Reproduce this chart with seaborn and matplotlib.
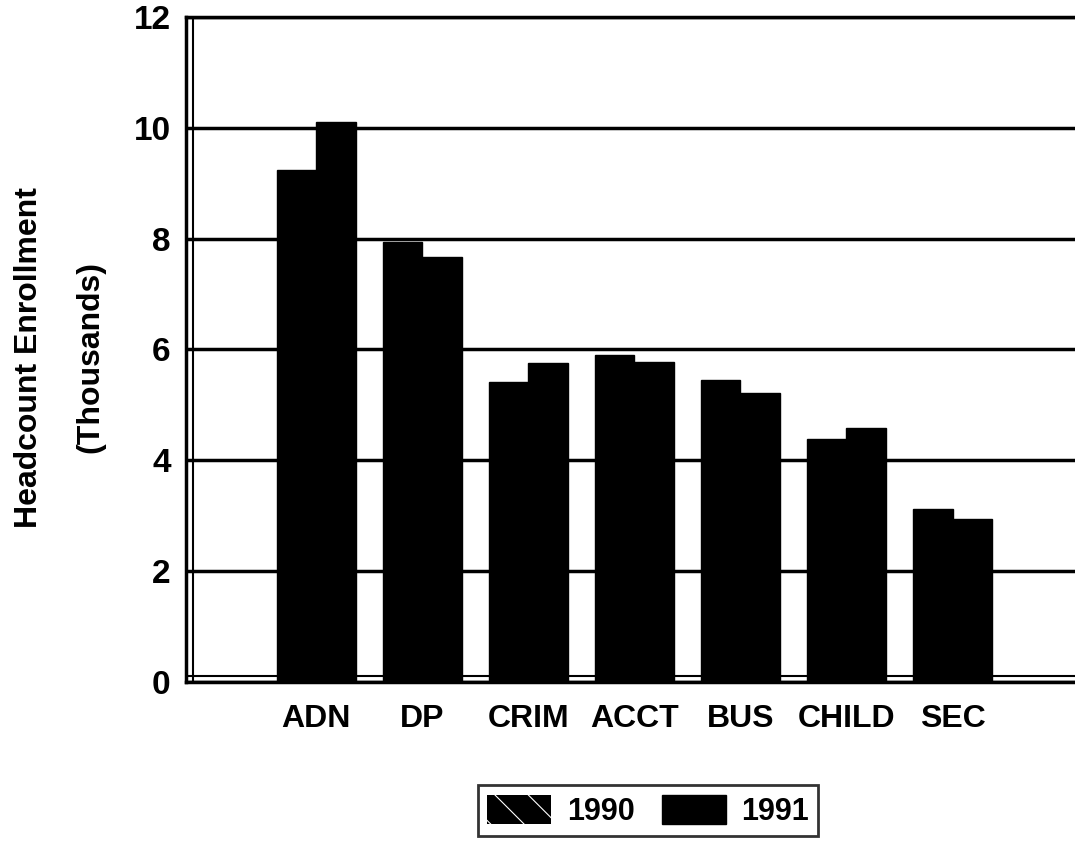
import pandas as pd
import seaborn as sns
import matplotlib.pyplot as plt
from matplotlib.patches import Patch

# ------------------------------------------------------------
# Data (thousands)
# ------------------------------------------------------------
programs = ["ADN", "DP", "CRIM", "ACCT", "BUS", "CHILD", "SEC"]
years = ["1990", "1991"]
enroll_1990 = [9.23, 7.93, 5.42, 5.90, 5.44, 4.38, 3.12]
enroll_1991 = [10.10, 7.67, 5.76, 5.78, 5.22, 4.58, 2.94]
y_ticks = [0, 2, 4, 6, 8, 10, 12]

df = pd.DataFrame({
    "program": programs * 2,
    "year": [years[0]] * len(programs) + [years[1]] * len(programs),
    "enroll": enroll_1990 + enroll_1991,
})

# ------------------------------------------------------------
# Plot
# ------------------------------------------------------------
sns.set_style("white")
plt.rcParams["font.family"] = ["Liberation Sans", "DejaVu Sans"]
plt.rcParams["font.weight"] = "bold"
plt.rcParams["text.color"] = "black"
plt.rcParams["xtick.color"] = "black"
plt.rcParams["ytick.color"] = "black"
plt.rcParams["hatch.linewidth"] = 0.8

fig = plt.figure(figsize=(10.75, 8.47), dpi=100)
ax = fig.add_axes([0.173, 0.195, 0.86, 0.785])

sns.barplot(data=df, x="program", y="enroll", hue="year", order=programs,
            hue_order=years, palette=["black", "black"], width=0.74,
            edgecolor="black", linewidth=1, saturation=1, legend=False, ax=ax)

ax.set_ylim(0, 12)
ax.set_xlim(-1.23, 7.49)
ax.set_yticks(y_ticks)
ax.set_yticklabels([str(t) for t in y_ticks], fontsize=24, fontweight="bold")
ax.set_xticks(range(len(programs)))
ax.set_xticklabels(programs, fontsize=23, fontweight="bold")
ax.set_xticks([i + 0.5 for i in range(len(programs) - 1)], minor=True)
ax.tick_params(axis="x", which="major", length=0, pad=16)
ax.tick_params(axis="x", which="minor", length=9, width=1.5, direction="out")
ax.tick_params(axis="y", length=8, width=2, direction="out", pad=3)
ax.set_xlabel("")
ax.set_ylabel("")

ax.yaxis.grid(True, color="black", linewidth=2.5)
ax.set_axisbelow(True)
for side in ["left", "bottom", "top"]:
    ax.spines[side].set_color("black")
    ax.spines[side].set_linewidth(2.5)
ax.spines["right"].set_visible(False)

# pseudo 3D wall / floor lines
ax.axvline(-1.16, color="black", linewidth=1.5)
ax.axhline(0.1, color="black", linewidth=1.5, zorder=0)

# y axis title, two lines
fig.text(0.027, 0.578, "Headcount Enrollment", rotation=90, ha="center", va="center",
         fontsize=23, fontweight="bold")
fig.text(0.084, 0.578, "(Thousands)", rotation=90, ha="center", va="center",
         fontsize=23, fontweight="bold")

# legend
handles = [Patch(facecolor="black", edgecolor="white", hatch="\\", linewidth=0),
           Patch(facecolor="black", edgecolor="black")]
leg = fig.legend(handles, years, loc="center", bbox_to_anchor=(0.603, 0.043), ncol=2,
                 frameon=True, fancybox=False, handlelength=2.1,
                 handleheight=1.1, columnspacing=0.9, handletextpad=0.5,
                 borderpad=0.3, borderaxespad=0, prop={"weight": "bold", "size": 22})
leg.get_frame().set_edgecolor("black")
leg.get_frame().set_linewidth(2)

plt.savefig("out.png", dpi=100)
